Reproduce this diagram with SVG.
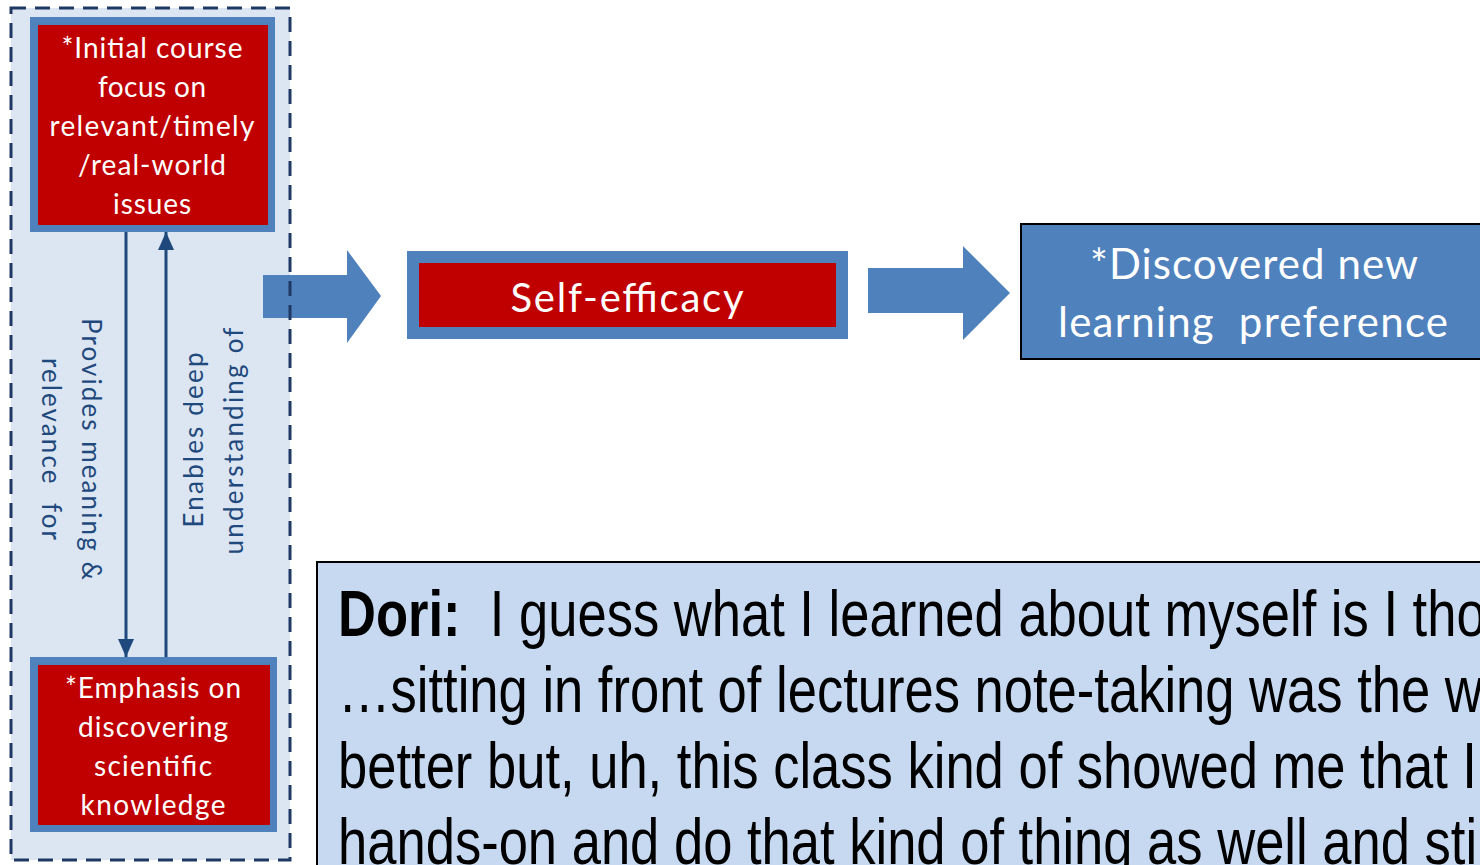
<svg xmlns="http://www.w3.org/2000/svg" width="1480" height="865" viewBox="0 0 1480 865">
<style>
.red{fill:#c00000}
.blueb{fill:#4f81bd}
.wt{fill:#ffffff;font-family:Lato,"Open Sans",sans-serif;text-anchor:middle}
.lbl{fill:#1f497d;font-family:Lato,"Open Sans",sans-serif;font-size:26px;text-anchor:middle}
.quote{fill:#000000;font-family:"Liberation Sans",Arial,sans-serif;font-size:64px}
.conn{stroke:#1f497d;stroke-width:3;fill:none}
.blk{fill:#4f81bd}
</style>
<defs>
<marker id="ah" markerUnits="userSpaceOnUse" markerWidth="18" markerHeight="18" viewBox="0 0 18 18" refX="18" refY="9" orient="auto">
<path d="M0,1 L18,9 L0,17 Z" fill="#1f497d"/>
</marker>
</defs>
<rect width="1480" height="865" fill="#ffffff"/>
<rect id="panel-bg" x="11" y="8" width="279" height="852" fill="#dce6f2"/>
<g id="connectors">
<line class="conn" x1="126" y1="232" x2="126" y2="657" marker-end="url(#ah)"/>
<line class="conn" x1="166" y1="657" x2="166" y2="232" marker-end="url(#ah)"/>
<path class="blk" d="M263,275 H347 V250 L381,296 L347,343 V318 H263 Z"/>
<path class="blk" d="M868,268 H963 V246 L1010,293 L963,340 V313 H868 Z"/>
</g>
<rect id="panel-border" x="11" y="8" width="279" height="852" fill="none" stroke="#1f3864" stroke-width="3" stroke-dasharray="15 9"/>
<g id="node-initial">
<rect class="blueb" x="30" y="17" width="245" height="215"/>
<rect class="red" x="38" y="25" width="230" height="200"/>
<text class="wt" font-size="28"><tspan x="152" y="58" textLength="181">*Initial course</tspan><tspan x="152" y="97" textLength="108">focus on</tspan><tspan x="152" y="136" textLength="205">relevant/timely</tspan><tspan x="152" y="175" textLength="148">/real-world</tspan><tspan x="152" y="214" textLength="78">issues</tspan></text>
</g>
<g id="node-emphasis">
<rect class="blueb" x="30" y="657" width="247" height="175"/>
<rect class="red" x="38" y="665" width="232" height="160"/>
<text class="wt" font-size="28"><tspan x="153" y="698" textLength="176">*Emphasis on</tspan><tspan x="153" y="737" textLength="150">discovering</tspan><tspan x="153" y="776" textLength="118">scientific</tspan><tspan x="153" y="815" textLength="145">knowledge</tspan></text>
</g>
<g id="label-provides">
<text class="lbl" transform="translate(82,449) rotate(90)" x="0" y="0" textLength="262">Provides meaning &amp;</text>
<text class="lbl" xml:space="preserve" transform="translate(42,449) rotate(90)" x="0" y="0" textLength="182">relevance  for</text>
</g>
<g id="label-enables">
<text class="lbl" transform="translate(203,440) rotate(-90)" x="0" y="0" textLength="175">Enables deep</text>
<text class="lbl" transform="translate(243,441) rotate(-90)" x="0" y="0" textLength="227">understanding of</text>
</g>
<g id="node-selfefficacy">
<rect class="blueb" x="407" y="251" width="441" height="88"/>
<rect class="red" x="419" y="263" width="417" height="64"/>
<text class="wt" font-size="40" x="627" y="312" textLength="233">Self-efficacy</text>
</g>
<g id="node-discovered">
<rect x="1021" y="224" width="470" height="135" fill="#4f81bd" stroke="#000000" stroke-width="2"/>
<text class="wt" font-size="42" xml:space="preserve"><tspan x="1254" y="279" textLength="328">*Discovered new</tspan><tspan x="1253" y="337" textLength="390">learning  preference</tspan></text>
</g>
<g id="node-quote">
<rect x="317" y="562" width="1180" height="320" fill="#c6d9f1" stroke="#000000" stroke-width="2"/>
<text class="quote" xml:space="preserve" transform="scale(0.821,1)"><tspan x="411.7" y="636"><tspan font-weight="bold">Dori:</tspan>  I guess what I learned about myself is I tho</tspan><tspan x="411.7" y="712">…sitting in front of lectures note-taking was the w</tspan><tspan x="411.7" y="788">better but, uh, this class kind of showed me that I</tspan><tspan x="411.7" y="864">hands-on and do that kind of thing as well and sti</tspan></text>
</g>
</svg>
